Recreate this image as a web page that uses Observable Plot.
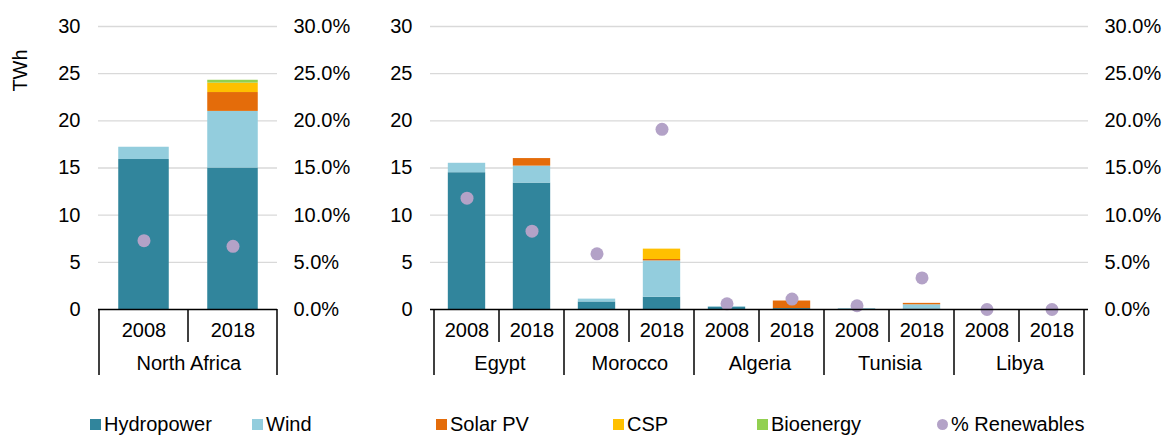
<!DOCTYPE html>
<html>
<head>
<meta charset="utf-8">
<script src="https://cdn.jsdelivr.net/npm/d3@7"></script>
<script src="https://cdn.jsdelivr.net/npm/@observablehq/plot@0.6"></script>
<style>
  html, body { margin: 0; padding: 0; background: #fff; }
  #wrap { position: relative; width: 1165px; height: 435px; font-family: "Liberation Sans", Arial, sans-serif; }
  .panel { position: absolute; top: 0; }
  .leg { position: absolute; top: 413px; font-size: 20px; color: #000; display: flex; align-items: center; height: 22px; white-space: nowrap; }
  .sw { width: 11px; height: 11px; margin-right: 3px; }
  .cir { width: 11px; height: 11px; border-radius: 50%; margin-right: 3px; }
</style>
</head>
<body>
<div id="wrap">
  <div id="left" class="panel" style="left:0px"></div>
  <div id="right" class="panel" style="left:390px"></div>
  <div id="legend"></div>
</div>
<script>
// ---- data ----
const entities = ["North Africa", "Egypt", "Morocco", "Algeria", "Tunisia", "Libya"];
const years = ["2008", "2018"];
const sources = ["Hydropower", "Wind", "Solar PV", "CSP", "Bioenergy"];
const colors = ["#31859C", "#93CDDD", "#E46C0A", "#FFC000", "#92D050"];
const renewColor = "#B3A2C7";
// order: NA08, NA18, EG08, EG18, MA08, MA18, DZ08, DZ18, TN08, TN18, LY08, LY18
const hydro = [15.9, 15.0, 14.5, 13.4, 0.8, 1.3, 0.25, 0.1, 0.05, 0.05, 0, 0];
const wind  = [1.3, 6.0, 1.0, 1.8, 0.3, 3.85, 0.03, 0, 0.03, 0.45, 0, 0];
const solar = [0, 2.0, 0, 0.8, 0, 0.15, 0, 0.8, 0, 0.15, 0, 0];
const csp   = [0, 1.0, 0, 0, 0, 1.1, 0, 0, 0, 0, 0, 0];
const bio   = [0, 0.3, 0, 0, 0, 0, 0, 0, 0, 0, 0, 0];
const renewPct = [7.3, 6.7, 11.8, 8.3, 5.9, 19.1, 0.6, 1.1, 0.4, 3.35, 0, 0];
const yTicks = [0, 5, 10, 15, 20, 25, 30];
const gridTicks = [5, 10, 15, 20, 25, 30];

const seriesValues = [hydro, wind, solar, csp, bio];
const font = "'Liberation Sans', Arial, sans-serif";

function buildRows(ents) {
  const rows = [], dots = [], keys = [];
  ents.forEach(e => {
    const ei = entities.indexOf(e);
    years.forEach((yr, yi) => {
      const idx = ei * 2 + yi;
      const key = e + "|" + yr;
      keys.push(key);
      sources.forEach((s, si) => rows.push({key, source: s, value: seriesValues[si][idx]}));
      dots.push({key, pct: renewPct[idx]});
    });
  });
  return {rows, dots, keys};
}

function panel(container, ents, width, marginLeft, marginRight, barFrac, withTWh) {
  const {rows, dots, keys} = buildRows(ents);
  const step = (width - marginLeft - marginRight) / keys.length;
  const inset = step * (1 - barFrac) / 2;
  const groups = ents.map(e => ({key: e + "|" + years[0], name: e}));
  const marks = [
    Plot.ruleY(gridTicks, {stroke: "#D9D9D9", strokeWidth: 1.3}),
    Plot.barY(rows, {x: "key", y: "value", fill: "source", insetLeft: inset, insetRight: inset}),
    Plot.dot(dots, {x: "key", y: "pct", r: 6.5, fill: renewColor, stroke: "none"}),
    Plot.text(yTicks, {y: d => d, text: d => d.toFixed(1) + "%", frameAnchor: "right", textAnchor: "start", dx: 16, fill: "#000"}),
    Plot.text(groups, {x: "key", y: () => 0, text: "name", dx: step / 2, dy: 54, fill: "#000"}),
    Plot.ruleY([0], {stroke: "#000", strokeWidth: 1.5})
  ];
  if (withTWh) {
    marks.push(Plot.text(["TWh"], {frameAnchor: "top-left", textAnchor: "middle", lineAnchor: "middle", text: d => d, dx: -78, dy: 44, rotate: -90, fill: "#000"}));
  }
  const plot = Plot.plot({
    width, height: 400,
    marginTop: 26, marginBottom: 91, marginLeft, marginRight,
    style: {fontFamily: font, fontSize: "20px", color: "#000", background: "transparent", overflow: "visible"},
    x: {domain: keys, padding: 0, tickSize: 0, tickPadding: 13, tickFormat: k => k.split("|")[1], label: null},
    y: {domain: [0, 30], ticks: yTicks, tickSize: 0, tickPadding: 18, label: null},
    color: {domain: sources, range: colors},
    marks
  });
  container.appendChild(plot);
  // hierarchical axis separators, placed with the plot's own scales
  const sx = plot.scale("x"), sy = plot.scale("y");
  const y0 = sy.apply(0);
  const svg = d3.select(plot);
  const g = svg.append("g").attr("stroke", "#000").attr("stroke-width", 1.5);
  keys.forEach((k, i) => {
    const xs = sx.apply(k);
    const isGroupStart = i % 2 === 0;
    g.append("line").attr("x1", xs).attr("x2", xs).attr("y1", y0).attr("y2", y0 + (isGroupStart ? 66 : 33));
  });
  const xe = sx.apply(keys[keys.length - 1]) + sx.bandwidth;
  g.append("line").attr("x1", xe).attr("x2", xe).attr("y1", y0).attr("y2", y0 + 66);
  return plot;
}

panel(document.getElementById("left"), ["North Africa"], 390, 98, 113, 0.57, true);
panel(document.getElementById("right"), ["Egypt", "Morocco", "Algeria", "Tunisia", "Libya"], 775, 40, 77, 0.58, false);

// legend
const legendItems = sources.map((s, i) => ({label: s, color: colors[i], shape: "sw"}))
  .concat([{label: "% Renewables", color: renewColor, shape: "cir"}]);
const legendX = [90, 252, 436, 613, 757, 937];
const leg = document.getElementById("legend");
legendItems.forEach((it, i) => {
  const d = document.createElement("div");
  d.className = "leg";
  d.style.left = legendX[i] + "px";
  d.innerHTML = `<span class="${it.shape}" style="background:${it.color}"></span><span>${it.label}</span>`;
  leg.appendChild(d);
});
</script>
</body>
</html>
